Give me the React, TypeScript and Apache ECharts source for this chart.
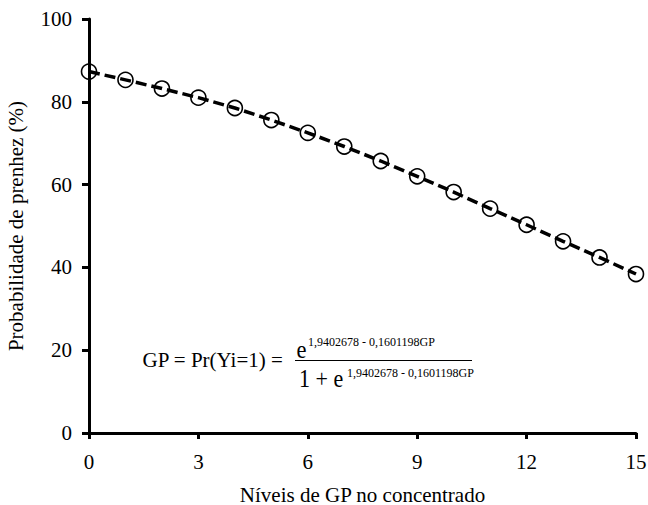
import React, { useEffect, useRef } from "react";
import * as echarts from "echarts";

const xValues = [0, 1, 2, 3, 4, 5, 6, 7, 8, 9, 10, 11, 12, 13, 14, 15];
const probValues = [87.3, 85.3, 83.2, 81.0, 78.5, 75.6, 72.5, 69.2, 65.7, 62.0, 58.2, 54.2, 50.3, 46.3, 42.4, 38.4];
const xTickLabels = ["0", "3", "6", "9", "12", "15"];
const yTickLabels = ["0", "20", "40", "60", "80", "100"];
const formulaLeft = "GP = Pr(Yi=1) =";
const exponentText = "1,9402678 - 0,1601198GP";

const FONT = "'Liberation Serif', 'Times New Roman', 'DejaVu Serif', serif";

export default function App() {
  const ref = useRef<HTMLDivElement>(null);
  useEffect(() => {
    if (!ref.current) return;
    const chart = echarts.init(ref.current, undefined, { renderer: "svg" });
    chart.setOption({
      animation: false,
      backgroundColor: "#fff",
      textStyle: { fontFamily: FONT },
      grid: { left: 89, right: 12, top: 19, bottom: 72, containLabel: false, outerBoundsMode: "none" },
      xAxis: {
        type: "value",
        min: 0,
        max: 15,
        interval: 3,
        name: "Níveis de GP no concentrado",
        nameLocation: "middle",
        nameGap: 51,
        nameTextStyle: { fontFamily: FONT, fontSize: 21, color: "#000" },
        axisLine: { show: true, lineStyle: { color: "#000", width: 3 } },
        axisTick: { show: true, length: 6, lineStyle: { color: "#000", width: 3 } },
        axisLabel: {
          fontFamily: FONT, fontSize: 21, color: "#000", margin: 18,
          formatter: (v: number) => xTickLabels[Math.round(v / 3)] ?? String(v),
        },
        splitLine: { show: false },
      },
      yAxis: {
        type: "value",
        min: 0,
        max: 100,
        interval: 20,
        name: "Probabilidade de prenhez (%)",
        nameLocation: "middle",
        nameGap: 63,
        nameTextStyle: { fontFamily: FONT, fontSize: 21, color: "#000" },
        axisLine: { show: true, lineStyle: { color: "#000", width: 3 } },
        axisTick: { show: true, length: 7, lineStyle: { color: "#000", width: 3 } },
        axisLabel: {
          fontFamily: FONT, fontSize: 21, color: "#000", margin: 17,
          formatter: (v: number) => yTickLabels[Math.round(v / 20)] ?? String(v),
        },
        splitLine: { show: false },
      },
      series: [
        {
          type: "line",
          data: xValues.map((x, i) => [x, probValues[i]]),
          symbol: "circle",
          symbolSize: 15,
          lineStyle: { color: "#000", width: 3.5, type: [11, 5] },
          itemStyle: { color: "rgba(0,0,0,0)", borderColor: "#000", borderWidth: 1.6 },
          z: 3,
        },
      ],
      graphic: [
        {
          type: "text", x: 142.5, y: 359.5,
          style: { text: formulaLeft, fontFamily: FONT, fontSize: 21, fill: "#000", align: "left", verticalAlign: "middle" },
        },
        {
          type: "text", x: 296.5, y: 349.5, scaleX: 0.9,
          style: { text: "e", fontFamily: FONT, fontSize: 25, fill: "#000", align: "left", verticalAlign: "middle" },
        },
        {
          type: "text", x: 308, y: 341.5,
          style: { text: exponentText, fontFamily: FONT, fontSize: 12, fill: "#000", align: "left", verticalAlign: "middle" },
        },
        {
          type: "line",
          shape: { x1: 295, y1: 360.5, x2: 472, y2: 360.5 },
          style: { stroke: "#000", lineWidth: 1.2 },
        },
        {
          type: "text", x: 299, y: 378.5, scaleX: 0.88,
          style: { text: "1 + e", fontFamily: FONT, fontSize: 25, fill: "#000", align: "left", verticalAlign: "middle" },
        },
        {
          type: "text", x: 347, y: 373,
          style: { text: exponentText, fontFamily: FONT, fontSize: 12, fill: "#000", align: "left", verticalAlign: "middle" },
        },
      ],
    });
    return () => chart.dispose();
  }, []);
  return <div ref={ref} style={{ position: "fixed", left: 0, top: 0, width: 648, height: 505 }} />;
}
